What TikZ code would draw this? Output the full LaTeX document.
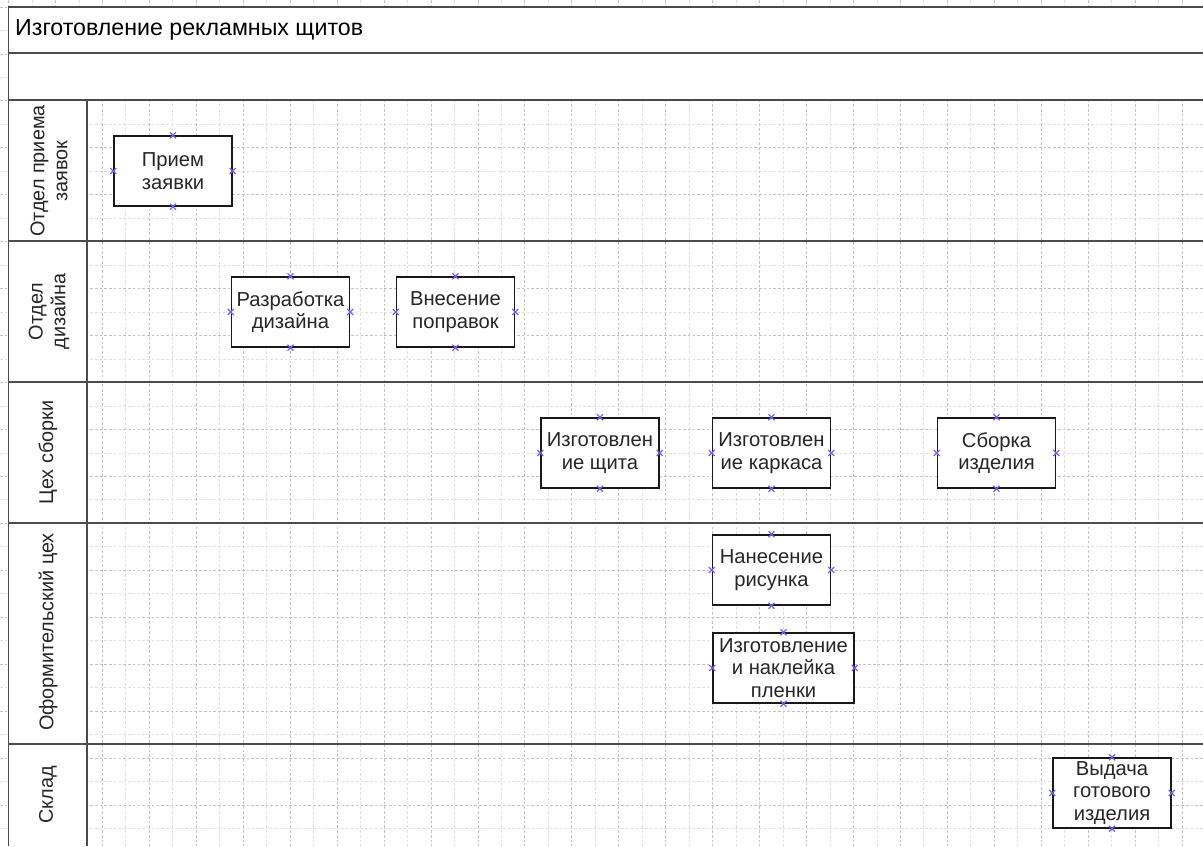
\documentclass[tikz,border=0pt]{standalone}
\usepackage{fontspec}
\setmainfont{Liberation Sans}

\tikzstyle{frame} = [draw=black!70, line width=0.9pt]
\tikzstyle{minor} = [draw=black!13, dash pattern=on 1.5pt off 1.2pt, line width=0.45pt]
\tikzstyle{major} = [draw=black!24, dash pattern=on 1.5pt off 1.2pt, line width=0.45pt]
\tikzstyle{task}  = [draw=black!90, line width=0.8pt, fill=white, align=center, inner sep=0pt, text=black!85, minimum width=2.36cm, minimum height=1.4cm, font=\fontsize{11.5}{12.7}\selectfont]
\tikzstyle{wide}  = [task, minimum width=2.82cm]
\tikzstyle{lane}  = [rotate=90, align=center, text=black!85, font=\fontsize{11.3}{13}\selectfont]
\tikzstyle{pin}   = [draw=blue!60, line width=0.7pt]

\begin{document}
\begin{tikzpicture}[x=0.02cm, y=-0.02cm]
  \useasboundingbox (0,0) rectangle (1203,846);

  % grid
  \foreach \i in {0,...,51}
    \draw[minor] ({8.5+23.47*\i},0) -- ({8.5+23.47*\i},846);
  \foreach \j in {0,...,36}
    \draw[minor] (0,{7+23.47*\j}) -- (1203,{7+23.47*\j});
  \foreach \i in {0,2,...,50}
    \draw[major] ({8.5+23.47*\i},0) -- ({8.5+23.47*\i},846);
  \foreach \j in {0,2,...,36}
    \draw[major] (0,{7+23.47*\j}) -- (1203,{7+23.47*\j});
  \fill[white] (8.5,7) rectangle (1203,100);
  \fill[white] (8.5,100) rectangle (87,846);

  % pool and lanes
  \draw[frame] (8.5,846) -- (8.5,7) -- (1203,7);
  \foreach \y in {53,100,241,382,523,744}
    \draw[frame] (8.5,\y) -- (1203,\y);
  \draw[frame] (87,100) -- (87,846);

  \node (title) [anchor=west, font=\fontsize{13.2}{15}\selectfont] at (9,30) {Изготовление рекламных щитов};

  \node (l1) [lane] at (49,171)   {Отдел приема\\заявок};
  \node (l2) [lane] at (49,311.5) {Отдел\\дизайна};
  \node (l3) [lane] at (48,452.5) {Цех сборки};
  \node (l4) [lane] at (48,632)   {Оформительский цех};
  \node (l5) [lane] at (48,795)   {Склад};

  % tasks
  \node (order)    [task] at (173,171)    {Прием\\заявки};
  \node (design)   [task] at (290.5,312)  {Разработка\\дизайна};
  \node (fixes)    [task] at (455.5,312)  {Внесение\\поправок};
  \node (board)    [task] at (600,453)    {Изготовлен\\ие щита};
  \node (carcass)  [task] at (771.5,453)  {Изготовлен\\ие каркаса};
  \node (assembly) [task] at (996.5,453)  {Сборка\\изделия};
  \node (print)    [task] at (771.5,570)  {Нанесение\\рисунка};
  \node (film)     [wide] at (783.5,668)  {Изготовление\\и наклейка\\пленки};
  \node (issue)    [task] at (1112,793)   {Выдача\\готового\\изделия};

  % connection points
  \foreach \n in {order,design,fixes,board,carcass,assembly,print,film,issue}
    \foreach \a in {north,south,east,west}
      \draw[pin] (\n.\a) +(-3,-3) -- +(3,3) +(-3,3) -- +(3,-3);
\end{tikzpicture}
\end{document}
